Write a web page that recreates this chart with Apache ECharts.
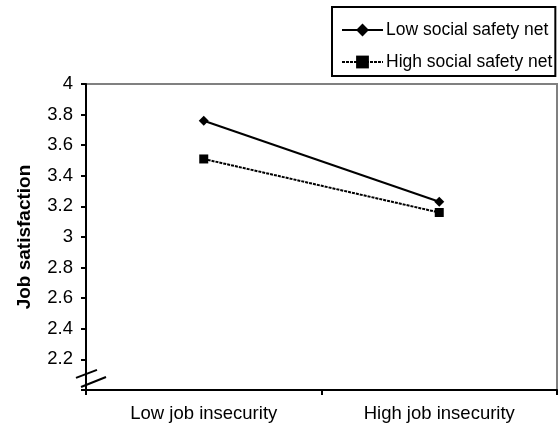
<!DOCTYPE html>
<html><head><meta charset="utf-8">
<script src="https://cdn.jsdelivr.net/npm/echarts@6/dist/echarts.min.js"></script>
<style>html,body{margin:0;padding:0;background:#fff}#c{width:560px;height:429px}</style>
</head><body><div id="c"></div>
<script>
var categories = ['Low job insecurity', 'High job insecurity'];
var lowSafetyNet = [3.76, 3.23];
var highSafetyNet = [3.51, 3.16];
var seriesNames = ['Low social safety net', 'High social safety net'];
var yTicks = [2.2, 2.4, 2.6, 2.8, 3, 3.2, 3.4, 3.6, 3.8, 4];

var chart = echarts.init(document.getElementById('c'), null, {renderer: 'canvas'});
var font = 'Liberation Sans, Arial, sans-serif';
chart.setOption({
  animation: false,
  backgroundColor: '#fff',
  grid: {left: 86, right: 3, top: 84, bottom: 39, show: true, borderColor: '#808080', borderWidth: 2},
  legend: {
    orient: 'vertical', left: 332, top: 7,
    borderColor: '#000', borderWidth: 2, padding: [14, 3, 5, 9], itemGap: 14,
    itemWidth: 41, itemHeight: 16,
    textStyle: {fontFamily: font, fontSize: 17.5, lineHeight: 18, color: '#000', padding: [0, 0, 0, -2]},
    data: [seriesNames[0], seriesNames[1]]
  },
  xAxis: {
    type: 'category', data: categories, boundaryGap: true,
    axisLine: {lineStyle: {color: '#000', width: 2}},
    axisTick: {show: true, length: 5, lineStyle: {color: '#000', width: 2}},
    axisLabel: {fontFamily: font, fontSize: 18.5, color: '#000', margin: 14},
    splitLine: {show: false}
  },
  yAxis: {
    type: 'value', min: 2, max: 4, interval: 0.2,
    name: 'Job satisfaction', nameLocation: 'middle', nameGap: 52,
    nameTextStyle: {fontFamily: font, fontSize: 19, fontWeight: 'bold', color: '#000'},
    axisLine: {show: true, lineStyle: {color: '#000', width: 2}},
    axisTick: {show: true, length: 5, lineStyle: {color: '#000', width: 2}},
    axisLabel: {fontFamily: font, fontSize: 18.5, color: '#000', margin: 13,
      formatter: function (v) {
        var r = Math.round(v * 10) / 10;
        for (var i = 0; i < yTicks.length; i++) if (Math.abs(yTicks[i] - r) < 1e-6) return String(yTicks[i]);
        return '';
      }},
    splitLine: {show: false}
  },
  series: [
    {name: seriesNames[0], type: 'line', data: lowSafetyNet, symbol: 'diamond', symbolSize: 10,
     itemStyle: {color: '#000'}, lineStyle: {color: '#000', width: 2}},
    {name: seriesNames[1], type: 'line', data: highSafetyNet, symbol: 'rect', symbolSize: 9,
     itemStyle: {color: '#000'}, lineStyle: {color: '#000', width: 2, type: [3, 1]}}
  ]
});

// axis break marks
var gx = 86;
var yU = chart.convertToPixel({yAxisIndex: 0}, 2.105);
var yL = chart.convertToPixel({yAxisIndex: 0}, 2.052);
chart.setOption({
  graphic: [
    {type: 'line', shape: {x1: gx - 10, y1: yU + 4, x2: gx + 11, y2: yU - 4}, style: {stroke: '#000', lineWidth: 2}},
    {type: 'line', shape: {x1: gx - 5, y1: yL + 5, x2: gx + 20, y2: yL - 5}, style: {stroke: '#000', lineWidth: 2}}
  ]
});
</script></body></html>
